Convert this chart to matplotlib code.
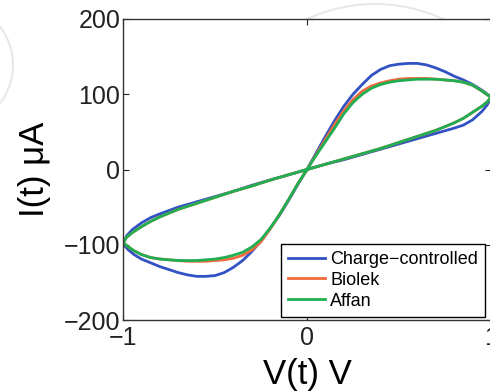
import matplotlib
matplotlib.use('Agg')
import matplotlib.pyplot as plt
from matplotlib.patches import Arc

plt.rcParams['font.family'] = ['Liberation Sans', 'DejaVu Sans']
plt.rcParams['axes.unicode_minus'] = True

# Voltaje (V) por tramo del ciclo
v_pos_rise = [0, 0.05, 0.1, 0.15, 0.2, 0.25, 0.3, 0.35, 0.4, 0.45, 0.5, 0.55,
              0.6, 0.65, 0.7, 0.75, 0.8, 0.85, 0.9, 0.94, 0.97, 1.0]
v_pos_fall = [1.0, 0.98, 0.95, 0.9, 0.85, 0.8, 0.7, 0.6, 0.5, 0.4, 0.3, 0.2, 0.1, 0.0]
v_neg_rise = [0, -0.05, -0.1, -0.15, -0.2, -0.25, -0.3, -0.35, -0.4, -0.45, -0.5, -0.55,
              -0.6, -0.65, -0.7, -0.75, -0.8, -0.85, -0.9, -0.94, -0.97, -1.0]
v_neg_fall = [-1.0, -0.98, -0.95, -0.9, -0.85, -0.8, -0.7, -0.6, -0.5, -0.4, -0.3, -0.2, -0.1, 0.0]

# Corriente (uA) - Charge-controlled
cc_pos_rise = [0, 22, 44, 65, 84, 100, 113, 125, 133, 138, 140, 141, 141, 139, 135, 130,
               124, 119, 113, 107, 102, 96]
cc_pos_fall = [96, 86, 77, 66, 59, 55, 48, 41, 34, 27, 20, 13, 7, 0]
cc_neg_rise = [0, -20, -41, -61, -78, -95, -109, -121, -130, -137, -141, -142, -142, -140,
               -137, -133, -129, -124, -119, -113, -107, -99]
cc_neg_fall = [-99, -88, -80, -71, -64, -59, -50, -43, -36, -29, -21, -14, -7, 0]

# Biolek
bi_pos_rise = [0, 20, 40, 60, 78, 93, 104, 111, 115, 118, 120, 121, 121, 121, 120, 119,
               118, 116, 112, 106, 101, 96]
bi_pos_fall = [96, 90, 84, 76, 68, 62, 52, 44, 36, 28, 21, 14, 7, 0]
bi_neg_rise = [0, -19, -40, -60, -79, -96, -107, -114, -118, -120, -121, -122, -122, -122,
               -121, -120, -119, -117, -113, -108, -103, -97]
bi_neg_fall = [-97, -90, -84, -76, -69, -63, -53, -45, -37, -29, -22, -14, -7, 0]

# Affan
af_pos_rise = [0, 19, 37, 55, 74, 89, 100, 108, 113, 116, 118, 119, 120, 120, 120, 119,
               118, 116, 112, 106, 101, 96]
af_pos_fall = [96, 90, 84, 76, 68, 62, 52, 44, 36, 28, 21, 14, 7, 0]
af_neg_rise = [0, -19, -40, -60, -78, -93, -103, -110, -114, -117, -119, -120, -121, -121,
               -121, -120, -119, -117, -113, -108, -103, -97]
af_neg_fall = [-97, -90, -84, -76, -69, -63, -53, -45, -37, -29, -22, -14, -7, 0]

series_names = ['Charge\u2212controlled', 'Biolek', 'Affan']
series_colors = ['#3152c2', '#f36a3d', '#1fae52']

x_ticks = [-1, 0, 1]
y_ticks = [-200, -100, 0, 100, 200]

v_cycle = v_pos_rise + v_pos_fall + v_neg_rise + v_neg_fall
currents = [
    cc_pos_rise + cc_pos_fall + cc_neg_rise + cc_neg_fall,
    bi_pos_rise + bi_pos_fall + bi_neg_rise + bi_neg_fall,
    af_pos_rise + af_pos_fall + af_neg_rise + af_neg_fall,
]

fig = plt.figure(figsize=(4.9, 3.92), dpi=100, facecolor='white')

# marca de agua tenue del fondo (queda detras de los ejes)
fig.patches.append(Arc((375 / 490, 1 - 165 / 392), 2 * 161 / 490, 2 * 161 / 392,
                       theta1=20, theta2=160, transform=fig.transFigure,
                       color='#e8e8e8', lw=1.5, zorder=0))
fig.patches.append(Arc((-50 / 490, 1 - 65 / 392), 2 * 63 / 490, 2 * 63 / 392,
                       theta1=-90, theta2=90, transform=fig.transFigure,
                       color='#e8e8e8', lw=1.5, zorder=0))

ax = fig.add_axes([123 / 490, 1 - 320 / 392, 368 / 490, 301 / 392])
ax.set_zorder(2)
ax.set_facecolor('white')

for corriente, nombre, color in zip(currents, series_names, series_colors):
    ax.plot(v_cycle, corriente, color=color, lw=2.0, label=nombre, solid_joinstyle='round')

ax.set_xlim(-1, 1)
ax.set_ylim(-200, 200)
ax.set_xticks(x_ticks)
ax.set_yticks(y_ticks)
ax.tick_params(direction='in', length=4, width=0.8, top=True, right=True,
               labelsize=18, pad=2, colors='#222222')
ax.tick_params(axis='x', pad=4)
for s in ax.spines.values():
    s.set_color('#3a3430')
    s.set_linewidth(1.0)

ax.set_xlabel('V(t) V', fontsize=25, labelpad=6)
ax.set_ylabel('I(t) \u03bcA', fontsize=25, labelpad=9)

leg = ax.legend(loc='lower right', bbox_to_anchor=(0.984, 0.01), borderaxespad=0,
                fontsize=13, handlelength=2.0, handletextpad=0.3,
                labelspacing=0.22, borderpad=0.4, fancybox=False, framealpha=1)
leg.get_frame().set_edgecolor('black')
leg.get_frame().set_linewidth(1.0)

plt.savefig('out.png', dpi=100)
print("ok")
